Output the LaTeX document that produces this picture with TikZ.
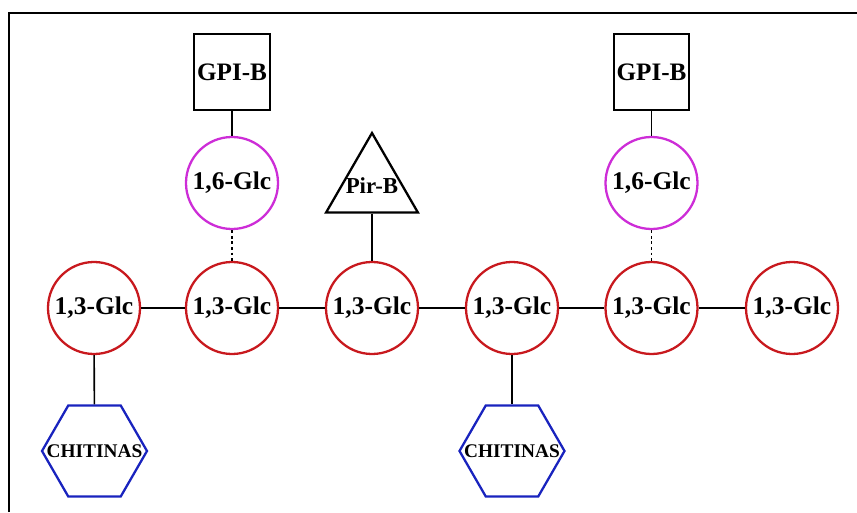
\documentclass[tikz,border=0pt]{standalone}
\usepackage{fontspec}
\setmainfont{Liberation Serif}
\usetikzlibrary{shapes.geometric}
\definecolor{glcred}{RGB}{200,25,30}
\definecolor{glcpink}{RGB}{205,45,215}
\definecolor{chitblue}{RGB}{25,35,190}
\tikzset{
	glcA/.style={circle, draw=glcred, line width=1.3pt, minimum size=1.84cm, inner sep=0pt, font=\fontsize{14.5}{17}\selectfont\bfseries},
	glcB/.style={circle, draw=glcpink, line width=1.3pt, minimum size=1.84cm, inner sep=0pt, font=\fontsize{14.5}{17}\selectfont\bfseries},
	gpibox/.style={rectangle, draw, line width=1.3pt, minimum size=1.51cm, inner sep=0pt, font=\fontsize{14.3}{17}\selectfont\bfseries},
	pirtri/.style={regular polygon, regular polygon sides=3, draw, line width=1.3pt, minimum size=2.12cm, inner sep=0pt},
	chithex/.style={regular polygon, regular polygon sides=6, draw=chitblue, line width=1.3pt, minimum size=2.1cm, inner sep=0pt},
	pirtext/.style={font=\fontsize{13}{15}\selectfont\bfseries, inner sep=0pt},
	chittext/.style={font=\fontsize{11}{13}\selectfont\bfseries, inner sep=0pt},
	link/.style={line width=0.9pt}
}
\begin{document}
\begin{tikzpicture}
	\useasboundingbox (0,0) rectangle (17.14,10.24);
	\draw[line width=1.7pt] (0.18,0) -- (0.18,9.98) -- (17.14,9.98);

	\node[glcA] (g1) at (1.88,4.08) {1,3-Glc};
	\node[glcA] (g2) at (4.64,4.08) {1,3-Glc};
	\node[glcA] (g3) at (7.44,4.08) {1,3-Glc};
	\node[glcA] (g4) at (10.24,4.08) {1,3-Glc};
	\node[glcA] (g5) at (13.03,4.08) {1,3-Glc};
	\node[glcA] (g6) at (15.84,4.08) {1,3-Glc};

	\node[glcB] (s2) at (4.64,6.58) {1,6-Glc};
	\node[glcB] (s5) at (13.03,6.58) {1,6-Glc};

	\node[gpibox] (gpiA) at (4.64,8.8) {GPI-B};
	\node[gpibox] (gpiB) at (13.03,8.8) {GPI-B};

	\node[pirtri, label={[pirtext]center:Pir-B}] (pir) at (7.44,6.52) {};

	\node[chithex, label={[chittext]center:CHITINAS}] (chitA) at (1.89,1.22) {};
	\node[chithex, label={[chittext]center:CHITINAS}] (chitB) at (10.24,1.22) {};

	\foreach \a/\b in {g1/g2,g2/g3,g3/g4,g4/g5,g5/g6}
		\draw[link] (\a) -- (\b);
	\draw[link] (gpiA) -- (s2);
	\draw[link] (gpiB) -- (s5);
	\draw[link, dash pattern=on 1.6pt off 1.6pt] (s2) -- (g2);
	\draw[link, dash pattern=on 1.6pt off 1.6pt] (s5) -- (g5);
	\draw[link] (pir.south) -- (g3);
	\draw[link] (g1) -- (chitA);
	\draw[link] (g4) -- (chitB);
\end{tikzpicture}
\end{document}
